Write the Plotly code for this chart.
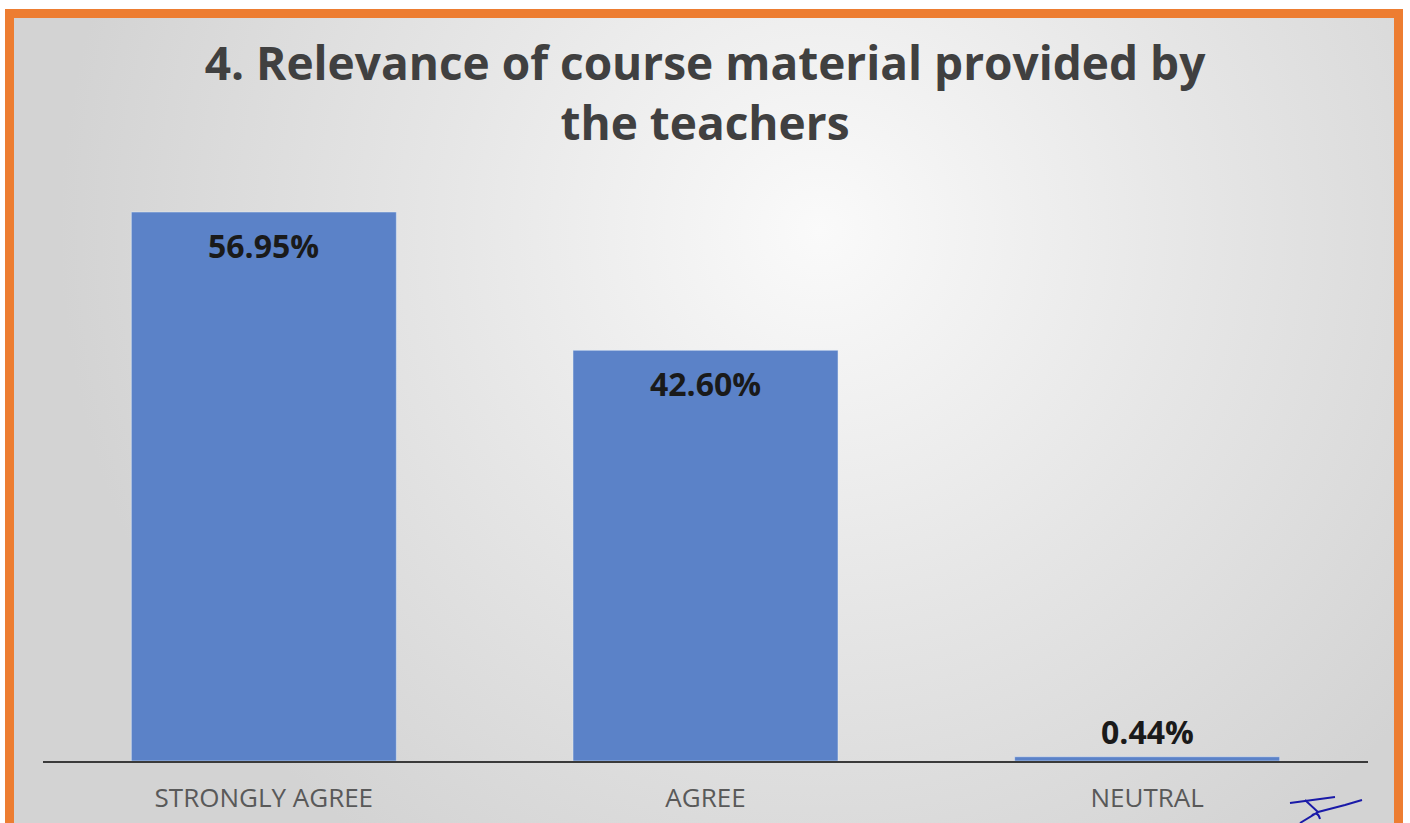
import plotly.graph_objects as go
import urllib.parse

categories = ["STRONGLY AGREE", "AGREE", "NEUTRAL"]
values = [56.95, 42.60, 0.44]
labels = ["56.95%", "42.60%", "0.44%"]
title_text = "4. Relevance of course material provided by<br>the teachers"

W, H = 1410, 823
ML, MR, MT, MB = 43, 42, 150, 62
PW, PH = W - ML - MR, H - MT - MB
FONT = "Open Sans"

svg = f'''<svg xmlns="http://www.w3.org/2000/svg" width="{W}" height="{H}" viewBox="0 0 {W} {H}" preserveAspectRatio="none">
<defs><radialGradient id="g" gradientUnits="userSpaceOnUse" cx="820" cy="230" r="760">
<stop offset="0%" stop-color="#FAFAFA"/><stop offset="50%" stop-color="#E6E6E6"/><stop offset="100%" stop-color="#D3D3D3"/></radialGradient></defs>
<rect x="0" y="0" width="{W}" height="{H}" fill="#FFFFFF"/>
<rect x="5" y="9" width="1398" height="2000" fill="#ED7D31"/>
<rect x="14" y="18" width="1380" height="2000" fill="url(#g)"/>
<path d="M1290 803 L1335 797 M1305 800 L1318 812 L1300 823 M1318 812 L1345 805 L1362 800 M1312 815 q6 -4 8 4" stroke="#1a1aa8" stroke-width="2" fill="none"/>
</svg>'''
uri = "data:image/svg+xml;charset=utf-8," + urllib.parse.quote(svg)

fig = go.Figure()
fig.add_trace(go.Bar(x=categories, y=values, marker_color="#5B82C8", width=0.6,
                     hoverinfo="skip"))

for c, v, t in zip(categories, values, labels):
    inside = v > 5
    fig.add_annotation(x=c, y=v, text=f"<b>{t}</b>", showarrow=False,
                       yanchor="top" if inside else "bottom",
                       yshift=-10 if inside else 2,
                       font=dict(family=FONT, size=32, color="#1A1A1A"))

fig.add_layout_image(source=uri, xref="paper", yref="paper",
                     x=-ML / PW, y=1 + MT / PH, sizex=W / PW, sizey=H / PH,
                     xanchor="left", yanchor="top", sizing="stretch", layer="below")

fig.update_layout(
    width=W, height=H,
    margin=dict(l=ML, r=MR, t=MT, b=MB, autoexpand=False),
    paper_bgcolor="rgba(0,0,0,0)", plot_bgcolor="rgba(0,0,0,0)",
    showlegend=False,
    title=dict(text=f"<b>{title_text}</b>", x=0.5, xanchor="center",
               y=1 - 80 / H, yanchor="middle",
               font=dict(family=FONT, size=46, color="#404040")),
    xaxis=dict(showline=True, linecolor="#3A3A3A", linewidth=2, showgrid=False,
               ticks="", ticklabelstandoff=13, automargin=False,
               tickfont=dict(family=FONT, size=26, color="#595959")),
    yaxis=dict(range=[0, PH / (549 / 56.95)], visible=False, showgrid=False,
               zeroline=False, automargin=False),
)

fig.write_html("out.html", config={"displayModeBar": False},
               post_script="document.body.style.margin='0';document.body.style.overflow='hidden';")
